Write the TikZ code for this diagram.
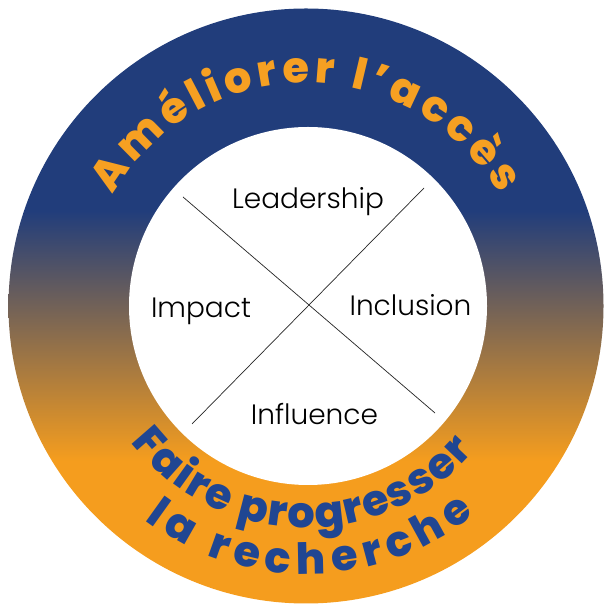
\documentclass[tikz,border=0pt]{standalone}
\usepackage{fontspec}
\setmainfont{Poppins}
\newfontfamily\labelfont{Poppins Light}
\newfontfamily\ringfont{Poppins ExtraBold}
\usetikzlibrary{decorations.text, calc}

\definecolor{ringblue}{RGB}{33,61,123}
\definecolor{ringorange}{RGB}{245,157,30}
\definecolor{textblue}{RGB}{32,70,146}
\definecolor{textorange}{RGB}{246,160,34}

\pgfdeclareverticalshading{ringshade}{100bp}{color(0bp)=(ringorange); color(37bp)=(ringorange); color(58bp)=(ringblue); color(100bp)=(ringblue)}

\begin{document}
\begin{tikzpicture}[
    x=1pt, y=1pt,
    quad/.style={font=\labelfont\fontsize{28}{28}\selectfont, anchor=base, inner sep=0pt},
    divider/.style={draw=black!85, line width=0.7pt},
    ringtext/.style 2 args={decorate, decoration={text along path, text align={fit to path},
        text={|\ringfont\fontsize{43}{43}\selectfont\color{#1}|#2}}}
]
    \useasboundingbox (0,0) rectangle (605,607);

    % Ring
    \coordinate (ctr) at (306,301);
    \coordinate (core) at (308,301);
    \shade[shading=ringshade] (ctr) circle[radius=297.5];
    \fill[white] (core) circle[radius=179];

    % Arc texts
    \path[ringtext={textorange}{Améliorer l’accès}]
        ([shift={(150:223)}]ctr) arc[start angle=150, end angle=30, radius=223];
    \path[ringtext={textblue}{Faire progresser}]
        ([shift={(218:222)}]ctr) arc[start angle=218, end angle=319, radius=222];
    \path[ringtext={textblue}{la recherche}]
        ([shift={(233:268)}]ctr) arc[start angle=233, end angle=309, radius=268];

    % Cross
    \coordinate (nw) at (183,410);
    \coordinate (se) at (435,194);
    \coordinate (ne) at (424,419);
    \coordinate (sw) at (192,183);
    \draw[divider] (nw) -- (se);
    \draw[divider] (ne) -- (sw);

    % Labels
    \node (leadership) [quad] at (308,398) {Leadership};
    \node (impact) [quad] at (201,289) {Impact};
    \node (inclusion) [quad] at (410.5,291) {Inclusion};
    \node (influence) [quad] at (314.5,182) {Influence};

\end{tikzpicture}
\end{document}
